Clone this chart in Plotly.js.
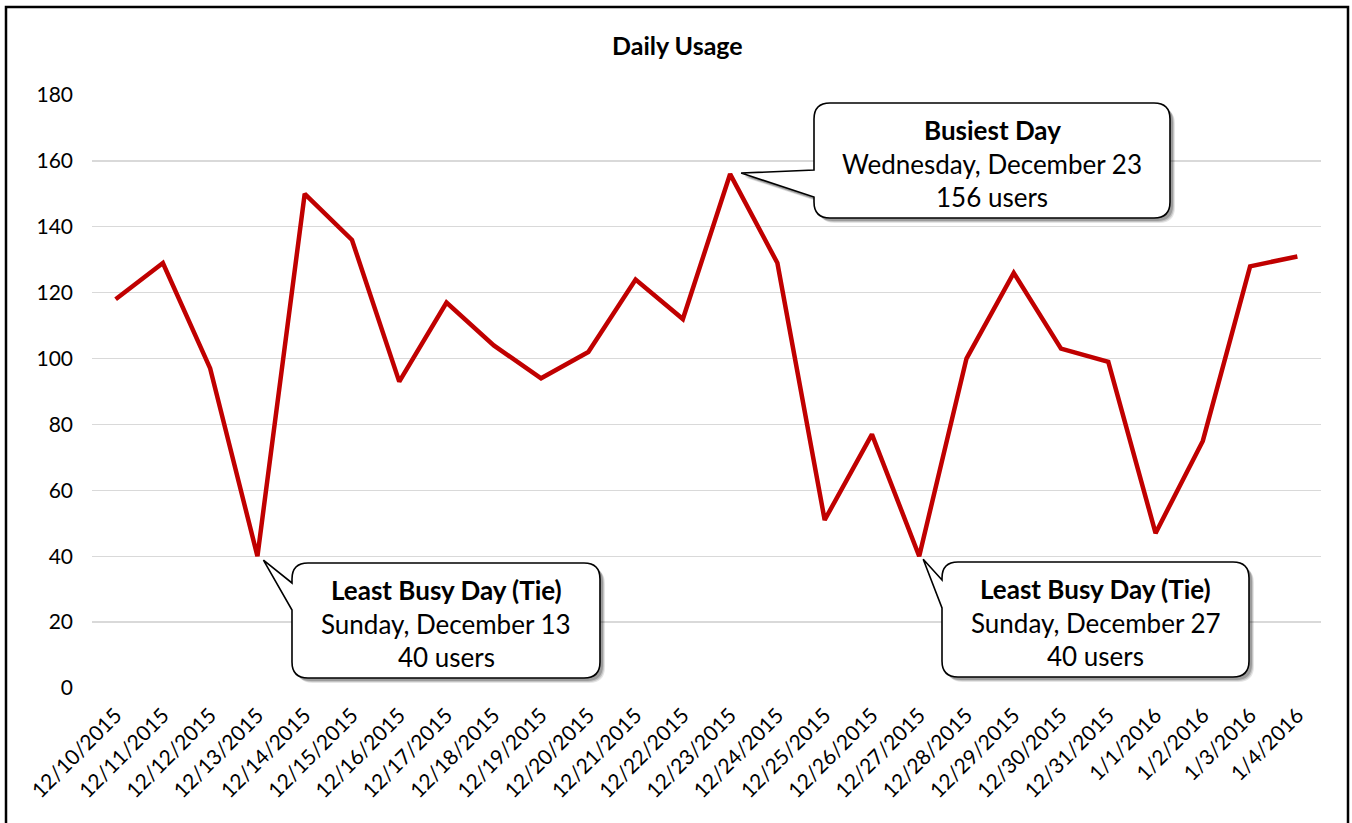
<!DOCTYPE html>
<html>
<head>
<meta charset="utf-8">
<script src="https://cdn.plot.ly/plotly-3.0.1.min.js"></script>
<style>html,body{margin:0;padding:0;background:#fff;}#chart{width:1352px;height:823px;}</style>
</head>
<body>
<div id="chart"></div>
<script>
// ---- data ----
const dates = ["12/10/2015","12/11/2015","12/12/2015","12/13/2015","12/14/2015","12/15/2015","12/16/2015","12/17/2015","12/18/2015","12/19/2015","12/20/2015","12/21/2015","12/22/2015","12/23/2015","12/24/2015","12/25/2015","12/26/2015","12/27/2015","12/28/2015","12/29/2015","12/30/2015","12/31/2015","1/1/2016","1/2/2016","1/3/2016","1/4/2016"];
const users = [118,129,97,40,150,136,93,117,104,94,102,124,112,156,129,51,77,40,100,126,103,99,47,75,128,131];
const yTicks = [0,20,40,60,80,100,120,140,160,180];
const calloutTitles = ["Least Busy Day (Tie)","Busiest Day","Least Busy Day (Tie)"];
const calloutDays = ["Sunday, December 13","Wednesday, December 23","Sunday, December 27"];
const calloutIdx = [3,13,17];

// ---- layout geometry (pixels) ----
const W = 1352, H = 823;
const M = {l:92, r:31, t:95, b:135};
const PW = W - M.l - M.r, PH = H - M.t - M.b;
const YMAX = 180;
const FONT = "Lato, 'Open Sans', sans-serif";

function px2x(px){ return (px - M.l) / PW; }
function py2y(py){ return (H - M.b - py) / PH; }
function dataPx(i){ return M.l + (i + 0.5) * PW / dates.length; }
function dataPy(v){ return H - M.b - v * PH / YMAX; }
function P(x,y){ return px2x(x).toFixed(5) + "," + py2y(y).toFixed(5); }

// rounded box with a pointer on its left side
function calloutPath(L,T,R,B,r,p1,p2,tx,ty,dx,dy){
  L+=dx;R+=dx;T+=dy;B+=dy;p1+=dy;p2+=dy;tx+=dx;ty+=dy;
  return "M" + P(L+r,T) + " L" + P(R-r,T) + " Q" + P(R,T) + " " + P(R,T+r) +
    " L" + P(R,B-r) + " Q" + P(R,B) + " " + P(R-r,B) +
    " L" + P(L+r,B) + " Q" + P(L,B) + " " + P(L,B-r) +
    " L" + P(L,p2) + " L" + P(tx,ty) + " L" + P(L,p1) +
    " L" + P(L,T+r) + " Q" + P(L,T) + " " + P(L+r,T) + " Z";
}

// callout boxes: [L,T,R,B,pointerTopY,pointerBottomY,tipOffsetX,tipOffsetY]
const boxes = [
  [292,563,600,678,583,610, 6, 4],
  [814,103,1170,218,170,197, 11,-1],
  [942,562,1249,677,580,608, 4, 3]
];

const shapes = [];
const annotations = [];
boxes.forEach((b,k)=>{
  const i = calloutIdx[k];
  const tx = dataPx(i) + b[6], ty = dataPy(users[i]) + b[7];
  // soft shadow
  [[5,5,0.10],[4,4,0.15],[3,3,0.2]].forEach(s=>{
    shapes.push({type:"path", xref:"paper", yref:"paper",
      path: calloutPath(b[0],b[1],b[2],b[3],16,b[4],b[5],tx,ty,s[0],s[1]),
      fillcolor:"rgba(0,0,0,"+s[2]+")", line:{width:0}, layer:"above"});
  });
  shapes.push({type:"path", xref:"paper", yref:"paper",
    path: calloutPath(b[0],b[1],b[2],b[3],16,b[4],b[5],tx,ty,0,0),
    fillcolor:"#ffffff", line:{color:"#000000", width:1.6}, layer:"above"});
  const cx = (b[0]+b[2])/2;
  const lines = [
    {t:"<b>"+calloutTitles[k]+"</b>", y:b[1]+27},
    {t:calloutDays[k], y:b[1]+61},
    {t:users[i]+" users", y:b[1]+94}
  ];
  lines.forEach(l=>{
    annotations.push({xref:"paper", yref:"paper", x:px2x(cx), y:py2y(l.y),
      xanchor:"center", yanchor:"middle", showarrow:false, text:l.t,
      font:{family:FONT, size:26, color:"#000"}});
  });
});

// outer chart frame
shapes.push({type:"rect", xref:"paper", yref:"paper",
  x0:px2x(6), x1:px2x(1348), y0:py2y(826), y1:py2y(7),
  line:{color:"#000", width:2.5}, fillcolor:"rgba(0,0,0,0)", layer:"above"});

const trace = {
  x: dates, y: users, type:"scatter", mode:"lines",
  line:{color:"#C00000", width:4.5}, hoverinfo:"skip"
};

const layout = {
  width:W, height:H, margin:M,
  paper_bgcolor:"#fff", plot_bgcolor:"#fff",
  showlegend:false,
  title:{text:"<b>Daily Usage</b>", xref:"container", x:0.501, y:1-46/H, yanchor:"middle",
    font:{family:FONT, size:25, color:"#000"}},
  xaxis:{type:"category", categoryorder:"array", categoryarray:dates,
    range:[-0.5, dates.length - 0.5],
    tickangle:-45, showgrid:false, zeroline:false, showline:false,
    ticks:"", ticklabelstandoff:10,
    tickfont:{family:FONT, size:21, color:"#000"}},
  yaxis:{range:[0,YMAX], tickvals:yTicks, ticktext:yTicks.map(String),
    showgrid:true, gridcolor:"#D9D9D9", gridwidth:1.3, zeroline:false, showline:false,
    ticks:"", ticklabelstandoff:18,
    tickfont:{family:FONT, size:21, color:"#000"}},
  shapes:shapes, annotations:annotations
};

Plotly.newPlot("chart", [trace], layout, {staticPlot:true, displayModeBar:false});
</script>
</body>
</html>
